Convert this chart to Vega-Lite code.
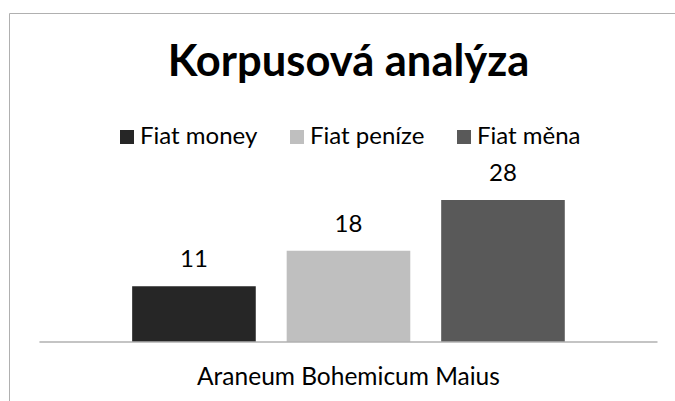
{
  "$schema": "https://vega.github.io/schema/vega-lite/v6.json",
  "width": 666,
  "height": 388,
  "autosize": {"type": "none"},
  "padding": {"left": 9, "top": 13, "right": 0, "bottom": 0},
  "background": "white",
  "datasets": {
    "bars": [
      {"corpus": "Araneum Bohemicum Maius", "series": "Fiat money", "value": 11},
      {"corpus": "Araneum Bohemicum Maius", "series": "Fiat peníze", "value": 18},
      {"corpus": "Araneum Bohemicum Maius", "series": "Fiat měna", "value": 28}
    ],
    "corpora": [
      {"corpus": "Araneum Bohemicum Maius", "title": "Korpusová analýza"}
    ]
  },
  "encoding": {
    "x": {
      "field": "corpus",
      "type": "nominal",
      "scale": {"paddingOuter": 0.0388, "paddingInner": 0, "align": 0.635},
      "axis": {"orient": "top", "labels": false, "ticks": false, "title": null, "domain": true, "domainColor": "#b0b0b0", "domainWidth": 1, "grid": false}
    },
    "y": {
      "type": "quantitative",
      "scale": {"domain": [-11.64, 64.89], "nice": false, "zero": false},
      "axis": {"orient": "left", "labels": false, "ticks": false, "title": null, "domain": true, "domainColor": "#b0b0b0", "domainWidth": 1, "grid": false}
    }
  },
  "layer": [
    {
      "data": {"name": "bars"},
      "mark": {"type": "bar"},
      "encoding": {
        "xOffset": {
          "field": "series",
          "type": "nominal",
          "sort": ["Fiat money", "Fiat peníze", "Fiat měna"],
          "scale": {"paddingInner": 0.2, "paddingOuter": 0.6}
        },
        "y": {"field": "value", "type": "quantitative"},
        "color": {
          "field": "series",
          "type": "nominal",
          "scale": {"domain": ["Fiat money", "Fiat peníze", "Fiat měna"], "range": ["#262626", "#bfbfbf", "#595959"]},
          "legend": {
            "title": null,
            "orient": "none",
            "direction": "horizontal",
            "legendX": 106,
            "legendY": 112,
            "symbolType": "square",
            "symbolSize": 196,
            "symbolStrokeWidth": 0,
            "symbolOpacity": 1,
            "labelFont": "Lato",
            "labelFontSize": 24,
            "labelColor": "#000000",
            "labelOffset": 1,
            "columnPadding": 27,
            "padding": 0
          }
        }
      }
    },
    {
      "data": {"name": "bars"},
      "mark": {"type": "text", "baseline": "alphabetic", "dy": -19, "font": "Lato", "fontSize": 24, "color": "#000000"},
      "encoding": {
        "xOffset": {
          "field": "series",
          "type": "nominal",
          "sort": ["Fiat money", "Fiat peníze", "Fiat měna"]
        },
        "y": {"field": "value", "type": "quantitative"},
        "text": {"field": "value", "type": "quantitative"}
      }
    },
    {
      "data": {"name": "corpora"},
      "mark": {"type": "rule", "color": "#b0b0b0", "strokeWidth": 1.5},
      "encoding": {
        "x": {"field": "corpus", "type": "nominal", "bandPosition": 0},
        "x2": {"field": "corpus", "bandPosition": 1},
        "y": {"datum": 0}
      }
    },
    {
      "data": {"name": "corpora"},
      "mark": {"type": "text", "baseline": "alphabetic", "font": "Lato", "fontSize": 24.5, "color": "#000000"},
      "encoding": {
        "y": {"datum": -8.5},
        "text": {"field": "corpus", "type": "nominal"}
      }
    },
    {
      "data": {"name": "corpora"},
      "mark": {"type": "text", "baseline": "alphabetic", "font": "Lato", "fontSize": 43.5, "fontWeight": "bold", "color": "#000000"},
      "encoding": {
        "y": {"datum": 52.47},
        "text": {"field": "title", "type": "nominal"}
      }
    }
  ],
  "config": {
    "view": {"stroke": null},
    "axis": {"minExtent": 0, "offset": 0}
  }
}
